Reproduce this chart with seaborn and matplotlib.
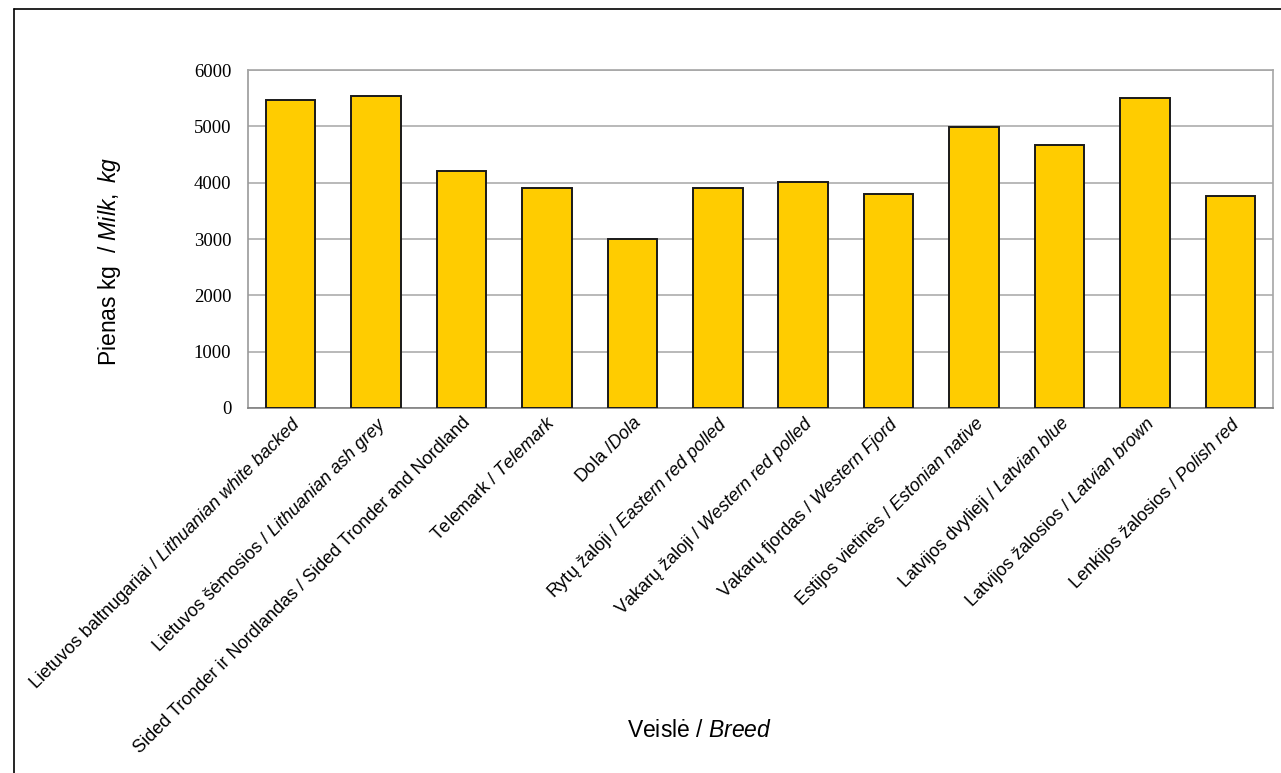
import matplotlib
matplotlib.use("Agg")
import matplotlib.pyplot as plt
import seaborn as sns
import pandas as pd
from matplotlib.lines import Line2D

# breed names: Lithuanian part upright, English part italic (mathtext)
breeds_lt = ["Lietuvos baltnugariai /", "Lietuvos šėmosios /", "Sided Tronder ir Nordlandas /",
             "Telemark /", "Dola /", "Rytų žaloji /", "Vakarų žaloji /", "Vakarų fjordas /",
             "Estijos vietinės /", "Latvijos dvylieji /", "Latvijos žalosios /", "Lenkijos žalosios /"]
breeds_en = ["Lithuanian white backed", "Lithuanian ash grey", "Sided Tronder and Nordland",
             "Telemark", "Dola", "Eastern red polled", "Western red polled", "Western Fjord",
             "Estonian native", "Latvian blue", "Latvian brown", "Polish red"]
en_italic = [True, True, False, True, True, True, True, True, True, True, True, True]
milk_kg = [5470, 5540, 4200, 3900, 3000, 3900, 4010, 3800, 4990, 4670, 5500, 3760]


def it(s):
    return r"$\mathit{" + s.replace(" ", r"\ ") + "}$"


labels = []
for lt, en, ital in zip(breeds_lt, breeds_en, en_italic):
    sep = "" if lt.startswith("Dola") else " "
    labels.append(lt + sep + (it(en) if ital else en))

df = pd.DataFrame({"breed": labels, "milk": milk_kg})

sns.set_style("white")
plt.rcParams["font.family"] = ["Liberation Sans", "DejaVu Sans"]
plt.rcParams["mathtext.fontset"] = "custom"
plt.rcParams["mathtext.rm"] = "Liberation Sans"
plt.rcParams["mathtext.it"] = "Liberation Sans:italic"
plt.rcParams["text.color"] = "black"
plt.rcParams["axes.labelcolor"] = "black"
plt.rcParams["xtick.color"] = "black"
plt.rcParams["ytick.color"] = "black"

fig = plt.figure(figsize=(12.81, 7.73), dpi=100)
ax = fig.add_axes([0.1936, 0.4722, 0.8002, 0.4372])

sns.barplot(data=df, x="breed", y="milk", color="#FFCC00", saturation=1,
            edgecolor="#1a1a1a", linewidth=1.4, width=0.58, ax=ax, zorder=3)

ax.set_ylim(0, 6000)
ax.set_yticks(range(0, 6001, 1000))
ax.yaxis.grid(True, color="#a6a6a6", linewidth=1.1, zorder=0)
ax.set_axisbelow(True)
for s in ax.spines.values():
    s.set_color("#a6a6a6")
    s.set_linewidth(1.2)
ax.spines["bottom"].set_color("#808080")
ax.spines["left"].set_color("#999999")

ax.tick_params(axis="y", length=0, pad=12)
for t in ax.get_yticklabels():
    t.set_fontfamily("Liberation Serif")
    t.set_fontsize(13.5)

ax.tick_params(axis="x", length=0, pad=4)
ax.set_xticks(range(len(labels)))
ax.set_xticklabels(labels, rotation=45, ha="right", rotation_mode="anchor", fontsize=13)

ax.set_xlabel("Veislė / " + it("Breed"), fontsize=16.5, labelpad=0)
ax.xaxis.set_label_coords(0.44, -0.92)
ax.set_ylabel("Pienas kg  / " + it("Milk, kg"), fontsize=16.5)
ax.yaxis.set_label_coords(-0.122, 0.432)

# frame lines of the original figure
fig.add_artist(Line2D([0.011, 1.0], [0.988, 0.988], color="black", linewidth=1.2, transform=fig.transFigure))
fig.add_artist(Line2D([0.011, 0.011], [0.0, 0.988], color="black", linewidth=1.2, transform=fig.transFigure))

fig.savefig("out.png", dpi=100)
